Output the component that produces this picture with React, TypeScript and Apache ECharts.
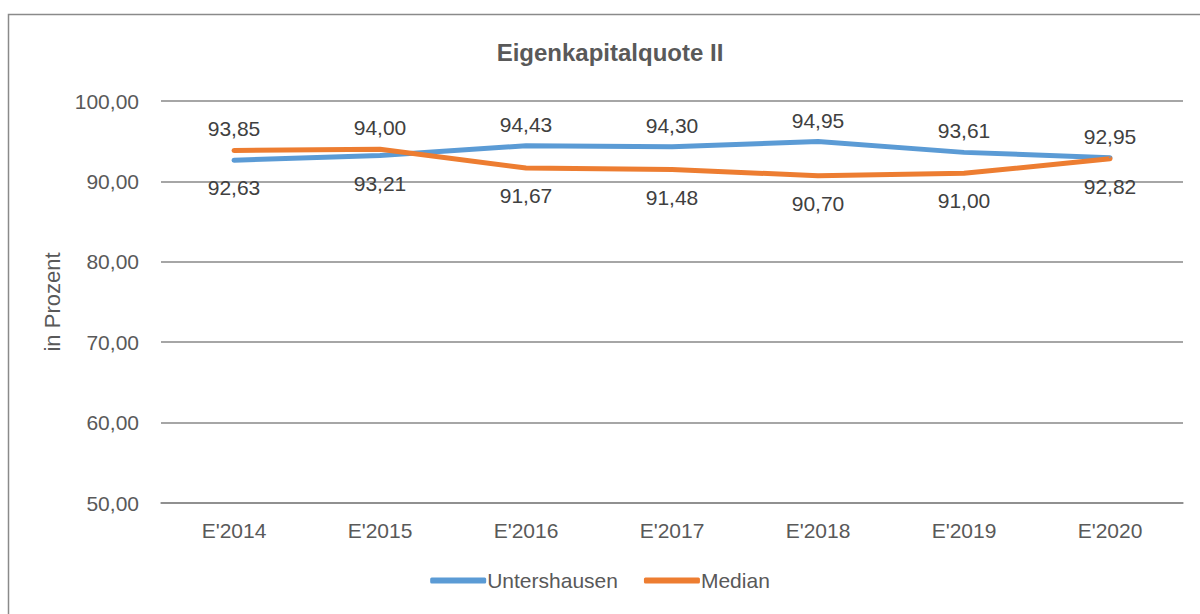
import React, { useEffect, useRef } from "react";
import * as echarts from "echarts";

const categories = ["E'2014", "E'2015", "E'2016", "E'2017", "E'2018", "E'2019", "E'2020"];
const untershausen = [92.63, 93.21, 94.43, 94.3, 94.95, 93.61, 92.95];
const median = [93.85, 94.0, 91.67, 91.48, 90.7, 91.0, 92.82];
const seriesNames = ["Untershausen", "Median"];
const titleText = "Eigenkapitalquote II";
const yAxisName = "in Prozent";

const FONT = '"Liberation Sans Narrow", "Arial Narrow", "Liberation Sans", Arial, sans-serif';
const fmt = (v: number) => v.toFixed(2).replace(".", ",");

export default function App() {
  const ref = useRef<HTMLDivElement>(null);
  useEffect(() => {
    if (!ref.current) return;
    const chart = echarts.init(ref.current, undefined, { renderer: "svg" });
    const mk = (vals: number[], other: number[]) =>
      vals.map((v, i) => ({
        value: v,
        label: {
          show: true,
          position: v >= other[i] ? "top" : "bottom",
          distance: v >= other[i] ? 10 : 16,
        },
      }));
    const labelStyle = {
      show: true,
      fontFamily: FONT,
      fontSize: 21,
      color: "#404040",
      formatter: (p: any) => fmt(p.value),
    };
    chart.setOption({
      animation: false,
      title: {
        text: titleText,
        left: 605,
        textAlign: "center",
        top: 35,
        textStyle: { fontFamily: FONT, fontSize: 24, fontWeight: "bold", color: "#595959" },
      },
      graphic: [
        {
          type: "rect",
          shape: { x: 8.5, y: 14.5, width: 1300, height: 800 },
          style: { fill: "none", stroke: "#8a8a8a", lineWidth: 1.5 },
          silent: true,
        },
      ],
      grid: { left: 161, right: 17, top: 101, bottom: 111 },
      legend: {
        bottom: 18,
        left: "center",
        icon: "roundRect",
        itemWidth: 56,
        itemHeight: 6,
        itemGap: 26,
        textStyle: { fontFamily: FONT, fontSize: 21, color: "#595959", padding: [0, 0, 0, -4] },
        data: seriesNames,
      },
      xAxis: {
        type: "category",
        data: categories,
        boundaryGap: true,
        axisLine: { show: true, lineStyle: { color: "#898989", width: 1.5 } },
        axisTick: { show: false },
        axisLabel: { fontFamily: FONT, fontSize: 21, color: "#595959", margin: 17 },
      },
      yAxis: {
        type: "value",
        min: 50,
        max: 100,
        interval: 10,
        name: yAxisName,
        nameLocation: "middle",
        nameGap: 89,
        nameTextStyle: { fontFamily: FONT, fontSize: 22, color: "#595959" },
        axisLabel: { fontFamily: FONT, fontSize: 21, color: "#595959", margin: 22, formatter: (v: number) => fmt(v) },
        splitLine: { lineStyle: { color: "#898989", width: 1.5 } },
        axisLine: { show: false },
        axisTick: { show: false },
      },
      series: [
        {
          name: seriesNames[0],
          type: "line",
          data: mk(untershausen, median),
          symbol: "circle",
          symbolSize: 2,
          showSymbol: true,
          lineStyle: { color: "#5B9BD5", width: 5, cap: "round", join: "round" },
          itemStyle: { color: "#5B9BD5" },
          label: labelStyle,
        },
        {
          name: seriesNames[1],
          type: "line",
          data: mk(median, untershausen),
          symbol: "circle",
          symbolSize: 2,
          showSymbol: true,
          lineStyle: { color: "#ED7D31", width: 5, cap: "round", join: "round" },
          itemStyle: { color: "#ED7D31" },
          label: labelStyle,
        },
      ],
    });
    return () => chart.dispose();
  }, []);
  return (
    <div
      ref={ref}
      style={{ position: "fixed", left: 0, top: 0, width: 1200, height: 614, background: "#fff" }}
    />
  );
}
